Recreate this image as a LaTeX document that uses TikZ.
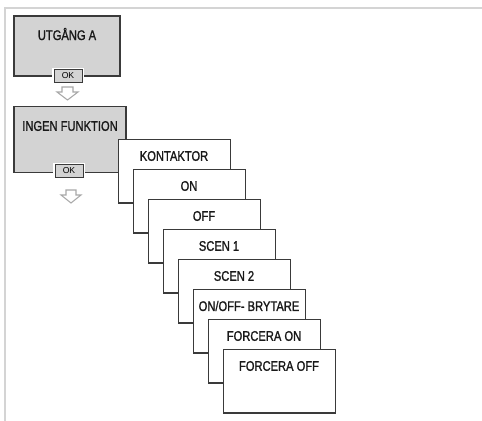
\documentclass[tikz,border=0pt]{standalone}
\usepackage{fontspec}
\setmainfont{Liberation Sans}[FakeStretch=0.8, FakeBold=1.2]
\newfontfamily\okfont{Liberation Sans}
\definecolor{frameg}{HTML}{D4D4D4}
\definecolor{boxg}{HTML}{D3D3D3}
\definecolor{edge}{HTML}{3A3A3A}
\definecolor{arrowg}{HTML}{A8A8A8}
\tikzset{
  menubox/.style={draw=edge, line width=0.9pt, fill=white, minimum width=84bp, minimum height=47.5bp, inner sep=0pt},
  graybox/.style={draw=edge, line width=0.9pt, fill=boxg, inner sep=0pt},
  lbl/.style={font=\fontsize{10.5}{12}\selectfont, inner sep=0pt, text=black!90},
  okbtn/.style={draw=edge, line width=0.6pt, fill=boxg, minimum width=21bp, minimum height=9.5bp, inner sep=0pt,
     font=\okfont\fontsize{6.5}{7}\selectfont, preaction={draw=white, line width=3pt}},
}
\begin{document}
\begin{tikzpicture}[x=0.75bp, y=-0.75bp]
\useasboundingbox (0,0) rectangle (482,421);
% frame
\draw[frameg, line width=1.1bp] (5,421) -- (5,8) -- (482,8);
% top menu
\node[graybox, minimum width=79.5bp, minimum height=45bp] (utg) at (67,46) {};
\node[lbl] (utgt) at (67,34) {UTGÅNG A};
\node[okbtn] (ok1) at (68,76) {OK};
\path[draw=arrowg, fill=white, line width=0.8bp] (62,87) -- (73,87) -- (73,92) -- (78,92) -- (67.5,100) -- (57,92) -- (62,92) -- cycle;
\node[graybox, minimum width=84bp, minimum height=50bp] (ing) at (70,139.5) {};
\node[lbl] (ingt) at (70,126) {INGEN FUNKTION};
\node[okbtn] (ok2) at (69,171) {OK};
\path[draw=arrowg, fill=white, line width=0.8bp] (66,190) -- (76,190) -- (76,195) -- (81,195) -- (71,203) -- (61,195) -- (66,195) -- cycle;
% stacked option boxes
\foreach \i/\t/\n in {0/KONTAKTOR/b0, 1/ON/b1, 2/OFF/b2, 3/SCEN 1/b3, 4/SCEN 2/b4, 5/ON\slash OFF- BRYTARE/b5, 6/FORCERA ON/b6, 7/FORCERA OFF/b7}{
  \node[menubox, anchor=north west] (\n) at (118+15*\i, 139+30*\i) {};
  \node[lbl] (\n t) at (174+15*\i, 156+30*\i) {\t};
}
\end{tikzpicture}
\end{document}
